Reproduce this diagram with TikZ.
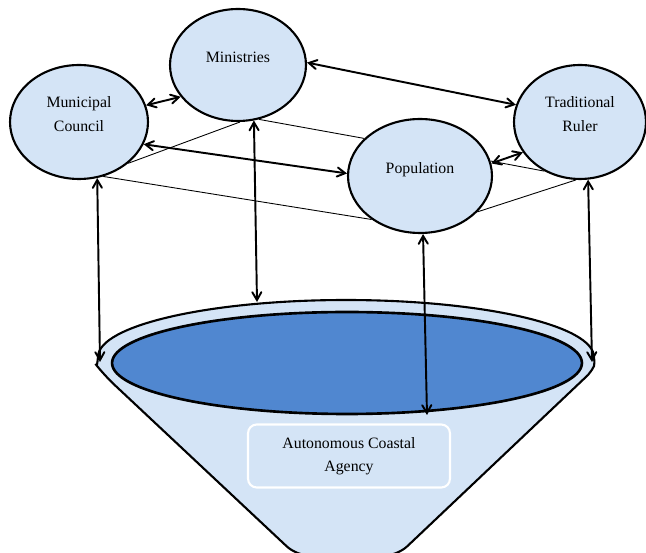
\documentclass[tikz,border=0pt]{standalone}
\usepackage{fontspec}
\setmainfont{Liberation Serif}
\usepackage{tikz}
\usetikzlibrary{arrows}
\usetikzlibrary{shapes.geometric}
\definecolor{paleblue}{RGB}{212,228,246}
\definecolor{lakeblue}{RGB}{80,135,208}

\begin{document}
\begin{tikzpicture}[x=0.02cm, y=-0.02cm,
  actor/.style={ellipse, draw, line width=1.2pt, fill=paleblue, inner sep=0pt,
    align=center, text depth=9pt, font=\fontsize{9}{14}\selectfont},
  link/.style={<->, >=angle 60, line width=1.1pt},
  plain/.style={line width=0.5pt}]
\useasboundingbox (0,0) rectangle (646,553);

% the funnel
\coordinate (FunL) at (98,357);
\filldraw [fill=paleblue, line width=1.2pt] (FunL)
  arc [start angle=180, end angle=0, x radius=4.96cm, y radius=1.14cm]
  .. controls (595,366) .. (588,375) [rounded corners=8pt] -- (397,556) -- (297,556)
  -- (104,375) [sharp corners] .. controls (97,366) .. (FunL) -- cycle;
\filldraw [fill=lakeblue, line width=1.5pt] (347,363) ellipse [x radius=4.7cm, y radius=1.02cm];
\node (ACA) [draw=white, line width=1.2pt, rounded corners=5pt, minimum width=4.04cm,
  minimum height=1.26cm, align=center, font=\fontsize{9}{13}\selectfont] at (349,456)
  {Autonomous Coastal\\Agency};

\coordinate (DropMC) at (100,362);
\coordinate (DropMin) at (257,302);
\coordinate (DropPop) at (427,415);
\coordinate (DropTR) at (592,362);

% the actors
\node (Min) [actor, minimum width=2.72cm, minimum height=2.24cm] at (238,65) {Ministries};
\node (MC) [actor, minimum width=2.76cm, minimum height=2.28cm] at (79,122) {Municipal\\Council};
\node (Pop) [actor, minimum width=2.88cm, minimum height=2.28cm] at (420,176) {Population};
\node (TR) [actor, minimum width=2.64cm, minimum height=2.28cm] at (580,122) {Traditional\\Ruler};

\draw [plain] (Min.-88) -- (MC.-40);
\draw [plain] (Min.-69) -- (Pop.146);
\draw [plain] (MC.-66) -- (Pop.222);
\draw [plain] (Pop.12) -- (TR.234);
\draw [plain] (Pop.-32) -- (TR.-94);

\draw [link] (MC.14) -- (Min.209);
\draw [link] (Min.2) -- (TR.165);
\draw [link] (MC.-19) -- (Pop.178);
\draw [link] (Pop.10) -- (TR.208);

\draw [link] (MC.-72) -- (DropMC);
\draw [link] (Min.-74) -- (DropMin);
\draw [link] (Pop.-87) -- (DropPop);
\draw [link] (TR.-82) -- (DropTR);

\end{tikzpicture}
\end{document}
